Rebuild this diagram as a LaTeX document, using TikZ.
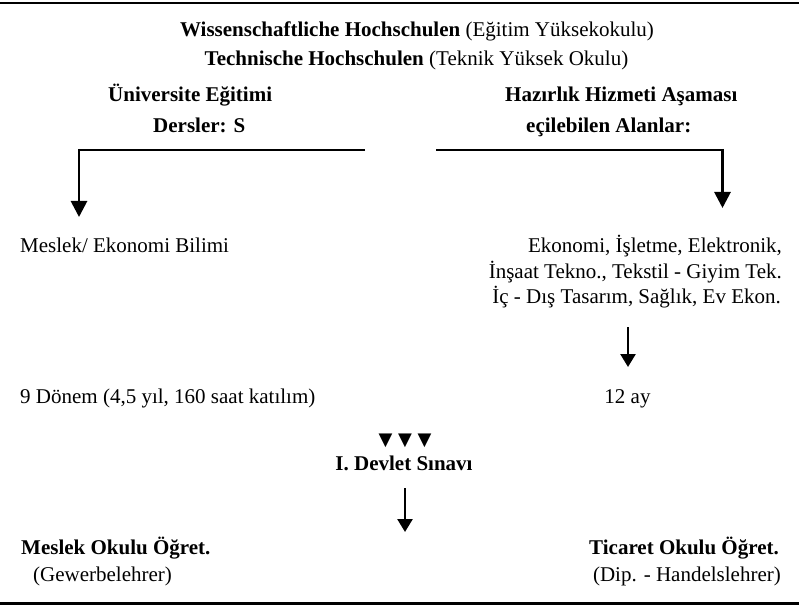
\documentclass[tikz,border=0pt]{standalone}
\usepackage{fontspec}
\setmainfont{Liberation Serif}
\newfontfamily\dejavu{DejaVu Sans}
\usetikzlibrary{arrows.meta}
\begin{document}
\begin{tikzpicture}[x=1pt,y=-1pt,
  t/.style={inner sep=0pt, font=\fontsize{21}{24}\selectfont},
  tb/.style={inner sep=0pt, font=\fontsize{21}{24}\selectfont\bfseries},
  rulel/.style={line width=2pt},
  hline/.style={line width=2pt},
  arr/.style={line width=2.8pt, -{Triangle[width=16pt,length=16pt]}},
  sarr/.style={line width=2.6pt, -{Triangle[width=15pt,length=13pt]}},
]
\useasboundingbox (0,0) rectangle (799,609);
% rules
\coordinate (topL) at (0,3);
\coordinate (topR) at (799,3);
\coordinate (botL) at (0,603.5);
\coordinate (botR) at (799,603.5);
\draw[rulel] (topL) -- (topR);
\draw[line width=2.6pt] (botL) -- (botR);

% header
\node[anchor=base, inner sep=0pt, font=\fontsize{21}{24}\selectfont] (wh) at (417,37)
  {\textbf{Wissenschaftliche Hochschulen} (Eğitim Yüksekokulu)};
\node[anchor=base, inner sep=0pt, font=\fontsize{21}{24}\selectfont] (th) at (416.5,66)
  {\textbf{Technische Hochschulen} (Teknik Yüksek Okulu)};

\node[tb, anchor=base west] (ue) at (108,102) {Üniversite Eğitimi};
\node[tb, anchor=base west] (ds) at (153,133) {Dersler: S};
\node[tb, anchor=base west] (hh) at (505,102) {Hazırlık Hizmeti Aşaması};
\node[tb, anchor=base west] (ea) at (526,133) {eçilebilen Alanlar:};

% bracket connectors
\coordinate (l1) at (365,150);
\coordinate (lc) at (79,150);
\coordinate (lt) at (79,217);
\coordinate (r1) at (436,150);
\coordinate (rc) at (722.5,150);
\coordinate (rt) at (722.5,208);
\draw[hline] (l1) -- (lc);
\draw[arr] ([yshift=1pt]lc) -- (lt);
\draw[hline] (r1) -- (rc);
\draw[arr] ([yshift=1pt]rc) -- (rt);

% middle texts
\node[t, anchor=base west] (meb) at (20,252) {Meslek/ Ekonomi Bilimi};
\node[t, anchor=base east] (r1t) at (782,253) {Ekonomi, İşletme, Elektronik,};
\node[t, anchor=base east] (r2t) at (782,278) {İnşaat Tekno., Tekstil - Giyim Tek.};
\node[t, anchor=base east] (r3t) at (781,303) {İç - Dış Tasarım, Sağlık, Ev Ekon.};

\coordinate (ma1) at (628,327);
\coordinate (ma2) at (628,367);
\draw[sarr] (ma1) -- (ma2);

\node[t, anchor=base west] (dn) at (20,403) {9 Dönem (4,5 yıl, 160 saat katılım)};
\node[t, anchor=base] (ay) at (627.5,403) {12 ay};

\node[anchor=base, inner sep=0pt, font=\dejavu\fontsize{18}{20}\selectfont] (tri) at (405,445) {▼ ▼ ▼};
\node[tb, anchor=base] (ds2) at (404,470) {I. Devlet Sınavı};

\coordinate (ba1) at (405,488);
\coordinate (ba2) at (405,532);
\draw[sarr] (ba1) -- (ba2);

\node[tb, anchor=base west] (mo) at (21,554) {Meslek Okulu Öğret.};
\node[t, anchor=base west] (gw) at (33,581) {(Gewerbelehrer)};
\node[tb, anchor=base east] (to) at (779,554) {Ticaret Okulu Öğret.};
\node[t, anchor=base east] (hl) at (781,581) {(Dip. - Handelslehrer)};
\end{tikzpicture}
\end{document}
